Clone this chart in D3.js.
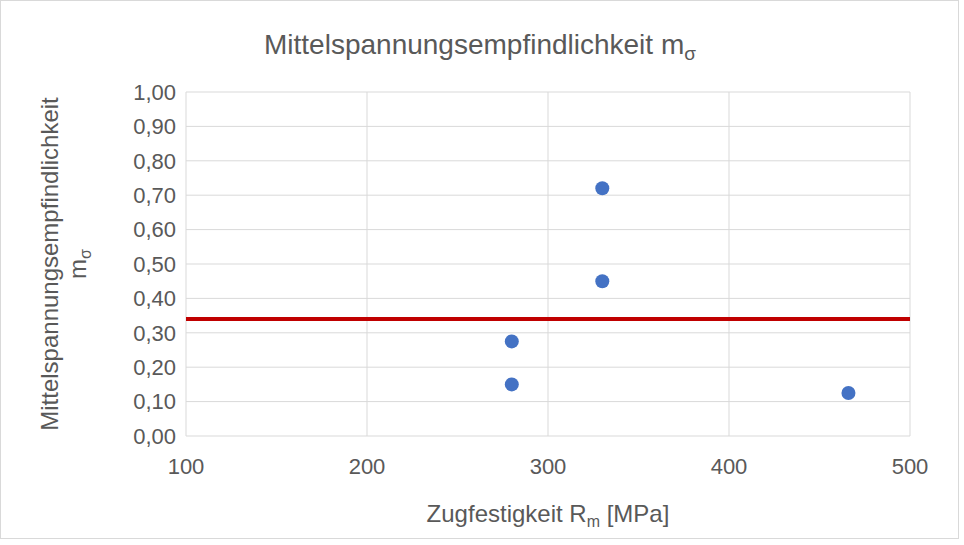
<!DOCTYPE html>
<html>
<head>
<meta charset="UTF-8">
<script src="https://d3js.org/d3.v7.min.js"></script>
<style>
  body { margin: 0; background: #fff; font-family: Arial, "Liberation Sans", sans-serif; }
  svg text { fill: #595959; }
</style>
</head>
<body>
<svg id="chart" width="964" height="545"></svg>
<script>
    // data
    const xValues = [280, 280, 330, 330, 466];
    const yValues = [0.275, 0.15, 0.72, 0.45, 0.125];
    const refLine = 0.34;
    const xTicks = [100, 200, 300, 400, 500];
    const yTicks = d3.range(0, 1.0001, 0.1);

    const svg = d3.select('#chart');
    const plotLeft = 186, plotRight = 910, plotTop = 92, plotBottom = 436;

    svg.append('rect').attr('x', 0.5).attr('y', 0.5).attr('width', 958).attr('height', 538)
      .attr('fill', '#fff').attr('stroke', '#d9d9d9');

    const x = d3.scaleLinear().domain([100, 500]).range([plotLeft, plotRight]);
    const y = d3.scaleLinear().domain([0, 1]).range([plotBottom, plotTop]);

    // grid
    svg.append('g').selectAll('line').data(yTicks).join('line')
      .attr('x1', plotLeft).attr('x2', plotRight)
      .attr('y1', d => y(d)).attr('y2', d => y(d))
      .attr('stroke', '#d9d9d9');
    svg.append('g').selectAll('line').data(xTicks).join('line')
      .attr('y1', plotTop).attr('y2', plotBottom)
      .attr('x1', d => x(d)).attr('x2', d => x(d))
      .attr('stroke', '#d9d9d9');

    // tick labels
    const fmt = d => d.toFixed(2).replace('.', ',');
    svg.append('g').selectAll('text').data(yTicks).join('text')
      .attr('x', plotLeft - 10).attr('y', d => y(d)).attr('dy', '0.35em')
      .attr('text-anchor', 'end').attr('font-size', 22).text(fmt);
    svg.append('g').selectAll('text').data(xTicks).join('text')
      .attr('x', d => x(d)).attr('y', plotBottom + 38)
      .attr('text-anchor', 'middle').attr('font-size', 22).text(d => d);

    // reference line
    svg.append('line').attr('x1', plotLeft).attr('x2', plotRight)
      .attr('y1', y(refLine)).attr('y2', y(refLine))
      .attr('stroke', '#c00000').attr('stroke-width', 4);

    // points
    svg.append('g').selectAll('circle').data(xValues).join('circle')
      .attr('cx', d => x(d)).attr('cy', (d, i) => y(yValues[i]))
      .attr('r', 7).attr('fill', '#4472c4');

    // titles
    const t = svg.append('text').attr('x', 480).attr('y', 54)
      .attr('text-anchor', 'middle').attr('font-size', 28);
    t.append('tspan').text('Mittelspannungsempfindlichkeit m');
    t.append('tspan').attr('font-size', 19).attr('dy', 6).text('σ');

    const xt = svg.append('text').attr('x', 548).attr('y', 522)
      .attr('text-anchor', 'middle').attr('font-size', 24);
    xt.append('tspan').text('Zugfestigkeit R');
    xt.append('tspan').attr('font-size', 16).attr('dy', 5).text('m');
    xt.append('tspan').attr('dy', -5).text(' [MPa]');

    const yt = svg.append('g').attr('transform', 'translate(58,264) rotate(-90)');
    yt.append('text').attr('text-anchor', 'middle').attr('font-size', 24)
      .text('Mittelspannungsempfindlichkeit');
    const yt2 = yt.append('text').attr('y', 28).attr('text-anchor', 'middle').attr('font-size', 24);
    yt2.append('tspan').text('m');
    yt2.append('tspan').attr('font-size', 16).attr('dy', 5).text('σ');
</script>
</body>
</html>
